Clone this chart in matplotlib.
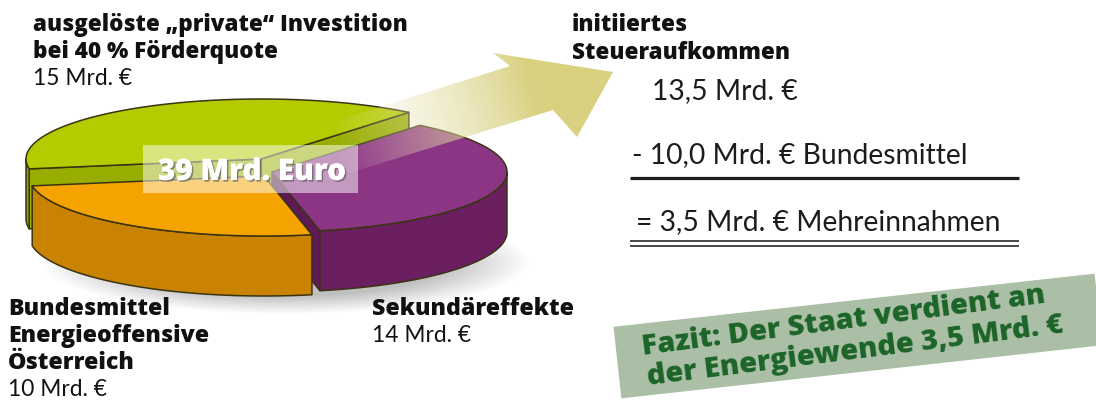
import numpy as np
import matplotlib
matplotlib.use("Agg")
import matplotlib.pyplot as plt
from matplotlib.patches import Polygon, Rectangle
from matplotlib import patheffects as pe

# ---------------- data ----------------
slice_names = ["ausgelöste „private“ Investition\nbei 40 % Förderquote",
               "Bundesmittel\nEnergieoffensive\nÖsterreich",
               "Sekundäreffekte"]
slice_values = [15, 10, 14]            # Mrd. €
total_label = "39 Mrd. Euro"
tax_title = ["initiiertes", "Steueraufkommen"]
tax_lines = ["13,5 Mrd. €", "- 10,0 Mrd. € Bundesmittel", "= 3,5 Mrd. € Mehreinnahmen"]
fazit_lines = ["Fazit: Der Staat verdient an", "der Energiewende 3,5 Mrd. €"]

# ---------------- figure ----------------
W, H = 1096, 401
fig = plt.figure(figsize=(W / 100, H / 100), dpi=100)
ax = fig.add_axes([0, 0, 1, 1])
ax.set_xlim(0, W)
ax.set_ylim(H, 0)
ax.axis("off")
renderer = fig.canvas.get_renderer()

BOLD = dict(family=["Open Sans", "DejaVu Sans"], weight="heavy")
REG = dict(family=["Lato", "DejaVu Sans"], weight="normal")


def fit_size(s, width, size0=14, **kw):
    t = ax.text(0, 0, s, fontsize=size0, **kw)
    bb = t.get_window_extent(renderer)
    t.remove()
    return size0 * width / bb.width


def put(x, y, s, size, rot=0, **kw):
    t = ax.text(x, y, s, fontsize=size, ha="left", va="baseline", **kw)
    if rot:
        t.set_rotation(rot)
        t.set_rotation_mode("anchor")
    return t


# ---------------- pie geometry (style) ----------------
A, B, DEPTH = 235, 60, 60
base_c = (262, 166)
explode_px = [(-1, -7), (2, 10), (10, 6)]
start_deg = 51
top_cols = ["#b3cb00", "#f5a300", "#8c3584"]
side_cols = ["#8ea300", "#c98300", "#6b1f60"]
face_cols = ["#97ad00", "#b87600", "#5e1a55"]
edge_col = "#3a3412"

# soft shadow
X, Y = np.meshgrid(np.arange(W) + 0.5, np.arange(H) + 0.5)
d = np.sqrt(((X - 285) / 245) ** 2 + ((Y - 262) / 52) ** 2)
sh = np.zeros((H, W, 4))
sh[..., :3] = 0.45
sh[..., 3] = 0.45 * np.clip((1.0 - d) / 0.35, 0, 1)
ax.imshow(sh, extent=(0, W, H, 0), origin="upper", aspect="auto", zorder=1)

fr = np.array(slice_values, float) / sum(slice_values)
bounds = start_deg + 360 * np.concatenate([[0], np.cumsum(fr)])


def rim(cx, cy, deg):
    r = np.radians(deg)
    return cx + A * np.cos(r), cy - B * np.sin(r)


def vis_intervals(t1, t2):
    out = []
    for k in range(-1, 3):
        lo, hi = 180 + 360 * k, 360 + 360 * k
        l, h = max(t1, lo), min(t2, hi)
        if h > l:
            out.append((l, h))
    return out


def draw_wedge(i, z):
    t1, t2 = bounds[i], bounds[i + 1]
    cx, cy = base_c[0] + explode_px[i][0], base_c[1] + explode_px[i][1]
    kw = dict(ec=edge_col, lw=1.1, joinstyle="round", zorder=z)
    for t, nrm in ((t1, t1 - 90), (t2, t2 + 90)):
        if np.sin(np.radians(nrm)) < 0:
            px, py = rim(cx, cy, t)
            ax.add_patch(Polygon([(cx, cy), (px, py), (px, py + DEPTH), (cx, cy + DEPTH)],
                                 fc=face_cols[i], **kw))
    for lo, hi in vis_intervals(t1, t2):
        th = np.linspace(lo, hi, 120)
        xs, ys = rim(cx, cy, th)
        pts = np.vstack([np.column_stack([xs, ys]), np.column_stack([xs[::-1], ys[::-1] + DEPTH])])
        ax.add_patch(Polygon(pts, fc=side_cols[i], **kw))
    th = np.linspace(t1, t2, 200)
    xs, ys = rim(cx, cy, th)
    pts = np.vstack([[cx, cy], np.column_stack([xs, ys])])
    ax.add_patch(Polygon(pts, fc=top_cols[i], **kw))


draw_wedge(0, 2)
draw_wedge(2, 3)
draw_wedge(1, 4)

# ---------------- gradient arrow ----------------
arrow_pts = [(250, 148), (510, 66), (493, 53), (613, 72), (577, 137), (553, 110), (262, 200)]
tail = np.array([256, 174.0])
tip = np.array([613, 72.0])
dv = tip - tail
tt = ((X - tail[0]) * dv[0] + (Y - tail[1]) * dv[1]) / (dv @ dv)
tt = np.clip(tt, 0, 1)
khaki = np.array([214, 205, 118]) / 255
ag = np.zeros((H, W, 4))
blend = np.clip(tt * 1.25, 0, 1)[..., None]
ag[..., :3] = (1 - blend) * 1.0 + blend * khaki
ag[..., 3] = 0.93 * np.clip((tt - 0.22) / 0.55, 0, 1)
arrow_patch = Polygon(arrow_pts, fc="none", ec="none", zorder=5)
ax.add_patch(arrow_patch)
im = ax.imshow(ag, extent=(0, W, H, 0), origin="upper", aspect="auto", zorder=5)
im.set_clip_path(arrow_patch)

# ---------------- centre label ----------------
ax.add_patch(Rectangle((143, 145), 215, 48, fc="white", ec="none", alpha=0.5, zorder=6))
put(158, 180, total_label, fit_size(total_label, 189, **BOLD), color="white", zorder=7,
    path_effects=[pe.withSimplePatchShadow(offset=(1.2, -1.2), shadow_rgbFace="#555555", alpha=0.6),
                  pe.Normal()], **BOLD)

# ---------------- slice labels ----------------
TXT = "#111111"
val_size = fit_size(f"{slice_values[0]} Mrd. €", 99, **REG)

g1, g2 = slice_names[0].split("\n")
gs = fit_size(g1, 375, **BOLD)
put(33, 31, g1, gs, color=TXT, zorder=8, **BOLD)
put(33, 58, g2, gs, color=TXT, zorder=8, **BOLD)
put(33, 85, f"{slice_values[0]} Mrd. €", val_size, color=TXT, zorder=8, **REG)

o1, o2, o3 = slice_names[1].split("\n")
ls = fit_size(o2, 201, **BOLD)
put(8, 315, o1, ls, color=TXT, zorder=8, **BOLD)
put(8, 342, o2, ls, color=TXT, zorder=8, **BOLD)
put(8, 369, o3, ls, color=TXT, zorder=8, **BOLD)
put(8, 396, f"{slice_values[1]} Mrd. €", val_size, color=TXT, zorder=8, **REG)

put(372, 315, slice_names[2], ls, color=TXT, zorder=8, **BOLD)
put(372, 342, f"{slice_values[2]} Mrd. €", val_size, color=TXT, zorder=8, **REG)

# ---------------- tax calculation ----------------
ts = fit_size(tax_title[1], 218, **BOLD)
put(572, 31, tax_title[0], ts, color=TXT, zorder=8, **BOLD)
put(572, 59, tax_title[1], ts, color=TXT, zorder=8, **BOLD)
rs = 0.5 * (fit_size(tax_lines[1], 330, **REG) + fit_size(tax_lines[2], 370, **REG))
put(652, 99, tax_lines[0], rs, color="#1c1c1c", zorder=8, **REG)
put(632, 163, tax_lines[1], rs, color="#1c1c1c", zorder=8, **REG)
put(636, 230, tax_lines[2], rs, color="#1c1c1c", zorder=8, **REG)
ax.plot([630, 1019], [178, 178], color="#1e1e1e", lw=2.3, solid_capstyle="butt", zorder=8)
ax.plot([630, 1019], [241, 241], color="#2a2a2a", lw=1.2, solid_capstyle="butt", zorder=8)
ax.plot([630, 1019], [245.5, 245.5], color="#2a2a2a", lw=1.2, solid_capstyle="butt", zorder=8)

# ---------------- Fazit box ----------------
bc = np.array([858.0, 336.0])
bw, bh, bang = 484, 72, 6.3
r = np.radians(bang)
u = np.array([np.cos(r), -np.sin(r)])
v = np.array([np.sin(r), np.cos(r)])
corners = [bc - bw / 2 * u - bh / 2 * v, bc + bw / 2 * u - bh / 2 * v,
           bc + bw / 2 * u + bh / 2 * v, bc - bw / 2 * u + bh / 2 * v]
ax.add_patch(Polygon(corners, fc="#aabfa6", ec="none", zorder=8))
FZ = "#1b6428"
fs = 0.5 * (fit_size(fazit_lines[0], 403, **BOLD) + fit_size(fazit_lines[1], 428, **BOLD))
put(643, 355, fazit_lines[0], fs, rot=7.4, color=FZ, zorder=9, **BOLD)
put(648, 385, fazit_lines[1], fs, rot=7.2, color=FZ, zorder=9, **BOLD)

fig.savefig("out.png", dpi=100, facecolor="white")
